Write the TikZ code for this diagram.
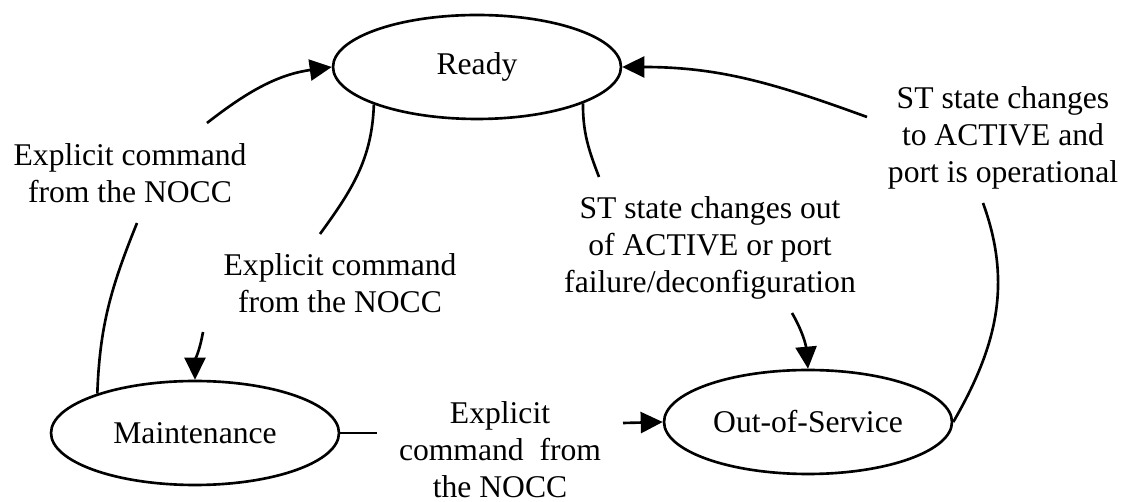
\documentclass[tikz,border=0pt]{standalone}
\usepackage{fontspec}
\setmainfont{Liberation Serif}
\usetikzlibrary{shapes.geometric,arrows.meta}
\tikzset{
	state/.style={draw,ellipse,line width=1.5pt,minimum width=5.76cm,minimum height=2.08cm,inner sep=0pt},
	lbl/.style={align=center,inner sep=0pt},
	tr/.style={line width=1.5pt},
	arr/.style={line width=1.5pt,-{Triangle[length=0.44cm,width=0.42cm]}}
}
\begin{document}
\begin{tikzpicture}[x=0.02cm,y=-0.02cm,font=\fontsize{18}{21}\selectfont]
	\useasboundingbox (0,0) rectangle (1122,502);
	\node [state] (ready) at (477,67) {Ready};
	\node [state] (maint) at (195,433) {Maintenance};
	\node [state] (oos) at (808,422) {Out-of-Service};
	\node [lbl] (l1) at (130,173) {Explicit command\\from the NOCC};
	\node [lbl] (l2) at (340,283) {Explicit command\\from the NOCC};
	\node [lbl] (l3) at (710,248) {ST state changes out\\of ACTIVE or port\\failure/deconfiguration};
	\node [lbl] (l4) at (1003,138) {ST state changes\\to ACTIVE and\\port is operational};
	\node [lbl] (l5) at (500,450) {Explicit\\command\ \ from\\the NOCC};
	\coordinate (c1a) at (137,223);
	\coordinate (c1b) at (207,123);
	\coordinate (c2a) at (320,234);
	\coordinate (c2b) at (203,332);
	\coordinate (c3a) at (599,177);
	\coordinate (c3b) at (792,313);
	\coordinate (c4a) at (867,117);
	\coordinate (c4b) at (983,203);
	\coordinate (c5a) at (377,433);
	\coordinate (c5b) at (623,423);
	\draw [tr] (maint.158) to [out=88,in=248] (c1a);
	\draw [arr] (c1b) to [out=38,in=188] (ready.west);
	\draw [tr] (ready.200) to [out=-92,in=54] (c2a);
	\draw [arr] (c2b) to [out=-100,in=90] (maint.north);
	\draw [tr] (ready.341) to [out=-90,in=111] (c3a);
	\draw [arr] (c3b) to [out=-60,in=95] (oos.north);
	\draw [tr] (oos.east) to [out=60,in=-70] (c4b);
	\draw [arr] (c4a) to [out=160,in=0] (ready.east);
	\draw [tr] (maint.east) -- (c5a);
	\draw [arr] (c5b) -- (oos.west);
\end{tikzpicture}
\end{document}
